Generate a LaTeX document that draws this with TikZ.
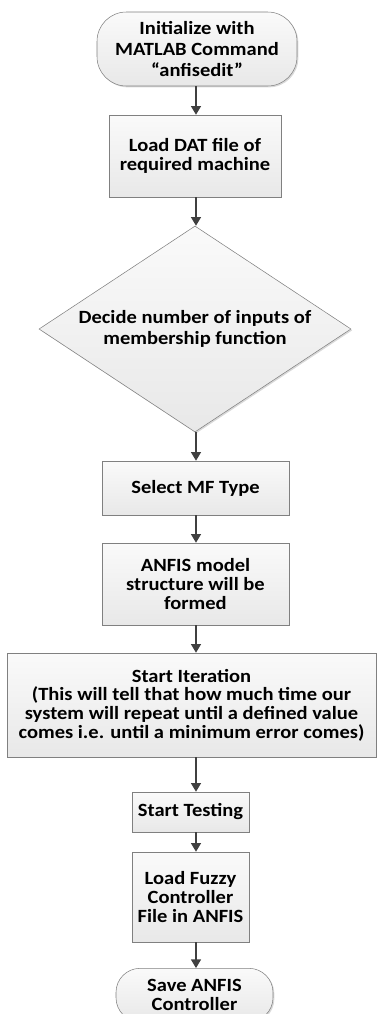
\documentclass[tikz,border=0pt]{standalone}
\usepackage{fontspec}
\setmainfont{Carlito}[FakeStretch=1.1]
\usepackage{tikz}
\usetikzlibrary{shapes.geometric, shadows, arrows.meta}

\definecolor{edgegray}{RGB}{128,128,128}
\definecolor{arrowgray}{RGB}{64,64,64}
\definecolor{boxtop}{RGB}{250,250,250}
\definecolor{boxbottom}{RGB}{232,232,232}

\tikzset{
    block/.style = {draw = edgegray, thin, top color = boxtop, bottom color = boxbottom,
                    drop shadow = {shadow xshift = 1pt, shadow yshift = -1pt, opacity = 0.3},
                    align = center, inner sep = 2pt,
                    font = \fontsize{14}{14}\selectfont\bfseries},
    terminal/.style = {block, rounded corners = 22pt},
    decision/.style = {block, diamond, aspect = 1.5, inner sep = 0pt},
    flow/.style = {draw = arrowgray, line width = 1pt, -{Triangle[width = 7.5pt, length = 6.5pt]}}
}

\begin{document}
\begin{tikzpicture}[x = 0.75pt, y = -0.75pt]
    \useasboundingbox (0, 0) rectangle (377, 1014);
    % the line all arrows run on
    \coordinate (axis) at (196, 0);

    \node[terminal, minimum width = 150pt, minimum height = 55.5pt,
          font = \fontsize{14}{16}\selectfont\bfseries] (start) at (197, 49)
        {Initialize with\\MATLAB Command\\``anfisedit''};
    \node[block, minimum width = 129pt, minimum height = 61.5pt] (load) at (195, 156)
        {Load DAT file of\\required machine};
    \node[decision, minimum width = 234pt, minimum height = 154.5pt,
          font = \fontsize{14}{16}\selectfont\bfseries] (decide) at (195, 329)
        {Decide number of inputs of\\membership function};
    \node[block, minimum width = 140.25pt, minimum height = 40.5pt] (select) at (195.5, 488)
        {Select MF Type};
    \node[block, minimum width = 140.25pt, minimum height = 61.5pt] (model) at (195.5, 584)
        {ANFIS model\\structure will be\\formed};
    \node[block, minimum width = 276.75pt, minimum height = 78pt] (iterate) at (191.5, 705)
        {Start Iteration\\(This will tell that how much time our\\system will repeat until a defined value\\comes i.e. until a minimum error comes)};
    \node[block, minimum width = 87.75pt, minimum height = 30pt] (testing) at (190.5, 812)
        {Start Testing};
    \node[block, minimum width = 87.75pt, minimum height = 67.5pt] (fuzzy) at (190.5, 897)
        {Load Fuzzy\\Controller\\File in ANFIS};
    \node[terminal, minimum width = 117.75pt, minimum height = 40pt, rounded corners = 18pt] (save) at (194.5, 995)
        {Save ANFIS\\Controller};

    % arrows
    \draw[flow] (start.south -| axis) -- (load.north -| axis);
    \draw[flow] (load.south -| axis) -- (decide.north -| axis);
    \draw[flow] (decide.south -| axis) -- (select.north -| axis);
    \draw[flow] (select.south -| axis) -- (model.north -| axis);
    \draw[flow] (model.south -| axis) -- (iterate.north -| axis);
    \draw[flow] (iterate.south -| axis) -- (testing.north -| axis);
    \draw[flow] (testing.south -| axis) -- (fuzzy.north -| axis);
    \draw[flow] (fuzzy.south -| axis) -- (save.north -| axis);
\end{tikzpicture}
\end{document}
